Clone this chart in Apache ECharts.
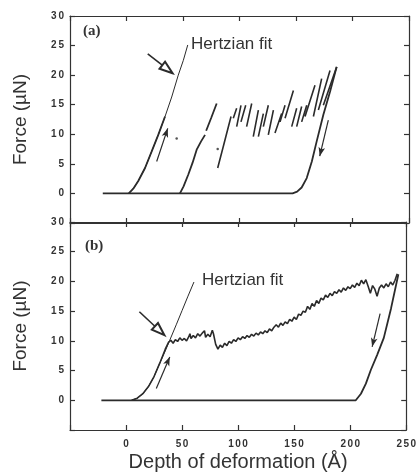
<!DOCTYPE html>
<html><head><meta charset="utf-8">
<script src="https://cdn.jsdelivr.net/npm/echarts@6/dist/echarts.min.js"></script>
<style>html,body{margin:0;padding:0;background:#fff}#c{width:419px;height:474px}</style>
</head><body><div id="c"></div>
<script>
// ---------- axes ----------
const xMin = -50, xMax = 250, xStep = 50;
const yMin = -5, yMax = 30, yStep = 5;

// ---------- panel (a) ----------
const aBaseUnload = [[-21,0],[147,0],[151,0.3],[155,1.0],[159.5,2.6],[164,5.4],[168.3,8.8],[174.2,13.3],[180.1,17.2],[186,21.4]];
const aFit = [[2,0],[6,0.8],[10.4,2.1],[16.4,4.3],[22.3,7.1],[28.1,9.9],[34.1,13.0],[40,16.3],[45.8,20.0],[50.3,22.5],[54.2,25.1]];
const aLoad1 = [[2,0],[6,0.8],[10.4,2.1],[16.4,4.3],[22.3,7.1],[28.1,9.9],[34.1,13.0]];
const aLoad2 = [[47.3,0],[50.5,1.2],[54.7,3.2],[58.5,5.2],[62.1,7.4],[66,8.8],[69.5,9.9],[70.3,null],[70.5,10.6],[75,12.8],[79.8,15.2]];
const aSaw = [
  [[80.7,4.3],[86,8.2],[92.5,13.0]],
  [[94.5,12.7],[97.5,14.4]],
  [[97.5,11.3],[101.3,14.9]],
  [[101.3,12.1],[105.5,14.9]],
  [[106.3,11.3],[110.8,15.2]],
  [[112.2,9.6],[116.7,14.1]],
  [[116.7,9.6],[121.1,13.5]],
  [[121.1,11.3],[125.5,14.9]],
  [[125.5,9.9],[130,14.1]],
  [[131.4,10.2],[137.3,13.5]],
  [[135.9,12.1],[140.3,14.9]],
  [[140.3,12.7],[147.7,17.4]],
  [[146.2,11.3],[150.6,14.4]],
  [[150.6,11.3],[155,14.7]],
  [[155,12.1],[159.5,14.9]],
  [[158,13.0],[166.8,18.3]],
  [[165.4,13.0],[172.7,19.4]],
  [[169.8,14.1],[180.1,20.8]],
  [[174.2,14.9],[186,21.4]]
];
const aDots = [[44.4,9.3],[80.7,7.5]];
// arrows: [start, end(head centre), kind]
const aArrows = [
  [[18.8,23.6],[36.2,21.0],'open'],
  [[26.7,5.4],[36.5,11.0],'small'],
  [[178.6,12.4],[171.0,6.3],'small']
];

// ---------- panel (b) ----------
const bBaseUnload = [[-22,0],[205,0],[209.6,1.1],[214,2.8],[218.4,5.1],[224,7.6],[230,10.5],[236.5,15.5],[243,21.2]];
const bFit = [[5,0],[10,0.35],[15,1.1],[20,2.3],[25,4.0],[30,6.2],[35,8.3],[39,10.1],[45,12.8],[50,15.1],[55,17.4],[60.6,19.9]];
const bLoad = [[5,0],[10,0.35],[15,1.1],[20,2.3],[25,4.0],[30,6.2],[35,8.6],[38,9.8],[40,10.1],[42,9.6],[44,10.2],[46,9.9],[48,10.5],[50,10.1],
  [52,10.4],[54,10.0],[56,10.7],[57,11.2],[58,10.4],[60,10.9],[62,10.5],[64,11.2],[66,10.8],[68,11.3],[70,11.7],[71,10.6],
  [73,11.1],[75,10.7],[77,11.8],[78,11.2],[80,9.4],[82,8.6],[84,9.3],[86,8.9],[88,9.6],[90,9.2],[92,9.9],[94,9.6],[96,10.2],
  [98,9.9],[100,10.5],[102,10.2],[104,10.7],[106,10.4],[108,10.9],[110,10.6],[112,11.1],[114,10.8],[116,11.3],[118,11.0],
  [120,11.5],[122,11.2],[124,11.7],[126,11.4],[128,12.0],[130,11.7],[132,12.3],[134,12.7],[136,12.3],[138,13.0],[140,12.6],
  [142,13.2],[144,12.9],[146,13.6],[148,13.3],[150,14.0],[152,13.6],[154,14.5],[156,14.3],[158,15.0],[160,14.8],[162,15.8],
  [164,15.3],[166,16.3],[168,15.8],[170,16.8],[172,16.3],[174,17.2],[176,16.9],[178,17.7],[180,17.3],[182,18.0],[184,17.6],
  [186,18.3],[188,18.0],[190,18.6],[192,18.2],[194,18.9],[196,18.5],[198,19.1],[200,18.8],[202,19.4],[204,19.0],[206,19.7],
  [208,19.3],[210,20.2],[212,19.6],[214,20.3],[216,19.2],[218,18.0],[220,19.3],[222,18.7],[224,17.5],[226,18.9],[228,19.4],
  [230,18.9],[232,19.6],[234,19.1],[236,19.9],[238,19.4],[240,20.2],[242,21.3]];
const bArrows = [
  [[11.9,14.9],[30.0,11.7],'open'],
  [[27,2.0],[39,7.3],'small'],
  [[226.7,14.6],[219.6,9.0],'small']
];

// ---------- chart ----------
const ink = '#2b2b2b';
const spaced = v => String(v).split('').map(c => '{d|' + c + '}').join('');
const labelRich = w => ({ d: { width: w, align: 'center', fontSize: 10, fontWeight: 'bold', fontFamily: 'Liberation Sans', color: '#333' } });

function xAx(grid, pos, showLabel) {
  return {
    type: 'value', gridIndex: grid, position: pos, min: xMin, max: xMax, interval: xStep,
    axisLine: { show: true, onZero: false, lineStyle: { color: '#333', width: 1.2 } },
    axisTick: { show: true, inside: true, length: 5, lineStyle: { color: '#333', width: 1.2 } },
    splitLine: { show: false },
    axisLabel: showLabel ? { show: true, margin: 9, formatter: v => v === xMin ? '' : spaced(v), rich: labelRich(7) } : { show: false }
  };
}
function yAx(grid, pos, showLabel) {
  const o = {
    type: 'value', gridIndex: grid, position: pos, min: yMin, max: yMax, interval: yStep,
    axisLine: { show: true, onZero: false, lineStyle: { color: '#333', width: 1.2 } },
    axisTick: { show: true, inside: true, length: 5, lineStyle: { color: '#333', width: 1.2 } },
    splitLine: { show: false },
    axisLabel: showLabel ? { show: true, margin: 5, formatter: v => v === yMin ? '' : spaced(v), rich: labelRich(7.5) } : { show: false }
  };
  if (showLabel) {
    o.name = 'Force (\u00b5N)'; o.nameLocation = 'middle'; o.nameGap = 40;
    o.nameTextStyle = { fontFamily: 'Liberation Sans', fontSize: 19, color: '#333' };
  }
  return o;
}

function lineS(data, xi, yi, w) {
  return { type: 'line', data: data, xAxisIndex: xi, yAxisIndex: yi, showSymbol: false, symbol: 'none',
    connectNulls: false, lineStyle: { color: ink, width: w }, silent: true, z: 3 };
}
function sawData(segs) {
  const out = [];
  segs.forEach((s, i) => { if (i) out.push([s[0][0] - 0.1, null]); s.forEach(p => out.push(p)); });
  return out;
}
function arrowSeries(arrows, xi, yi) {
  return { type: 'line', data: [], xAxisIndex: xi, yAxisIndex: yi, silent: true,
    markLine: { silent: true, animation: false, label: { show: false }, symbol: ['none', 'arrow'],
      data: arrows.map(a => {
        const open = a[2] === 'open';
        return [
          { coord: a[0], symbol: 'none', lineStyle: { color: ink, width: open ? 1.6 : 1.2, type: 'solid' } },
          { coord: a[1], symbol: open ? 'emptyTriangle' : 'arrow', symbolSize: open ? [9, 13] : [5, 9] }
        ];
      }) } };
}

const chart = echarts.init(document.getElementById('c'), null, { renderer: 'canvas' });
chart.setOption({
  animation: false,
  backgroundColor: '#fff',
  grid: [
    { left: 70, right: 10, top: 16, height: 207 },
    { left: 70, right: 10, top: 222, height: 208 }
  ],
  xAxis: [
    xAx(0, 'bottom', false), xAx(0, 'top', false),
    Object.assign(xAx(1, 'bottom', true), { name: 'Depth of deformation (\u00c5)', nameLocation: 'middle', nameGap: 22,
      nameTextStyle: { fontFamily: 'Liberation Sans', fontSize: 20, color: '#333' } }),
    xAx(1, 'top', false)
  ],
  yAxis: [yAx(0, 'left', true), yAx(0, 'right', false), yAx(1, 'left', true), yAx(1, 'right', false)],
  series: [
    lineS(aBaseUnload, 0, 0, 1.8),
    lineS(aFit, 0, 0, 1),
    lineS(aLoad1, 0, 0, 1.8),
    lineS(aLoad2, 0, 0, 1.8),
    lineS(sawData(aSaw), 0, 0, 1.6),
    { type: 'scatter', data: aDots, xAxisIndex: 0, yAxisIndex: 0, symbolSize: 2.5, itemStyle: { color: ink }, silent: true },
    arrowSeries(aArrows, 0, 0),
    lineS(bBaseUnload, 2, 2, 1.8),
    lineS(bFit, 2, 2, 1),
    lineS(bLoad, 2, 2, 1.6),
    arrowSeries(bArrows, 2, 2)
  ],
  graphic: [
    { type: 'text', x: 83, y: 31, style: { text: '(a)', font: 'bold 15px "Liberation Serif"', fill: '#333', verticalAlign: 'middle' } },
    { type: 'text', x: 85, y: 246, style: { text: '(b)', font: 'bold 15px "Liberation Serif"', fill: '#333', verticalAlign: 'middle' } },
    { type: 'text', x: 191, y: 44, style: { text: 'Hertzian fit', font: '17px "Liberation Sans"', fill: '#333', verticalAlign: 'middle' } },
    { type: 'text', x: 202, y: 280, style: { text: 'Hertzian fit', font: '17px "Liberation Sans"', fill: '#333', verticalAlign: 'middle' } }
  ]
});
</script></body></html>
